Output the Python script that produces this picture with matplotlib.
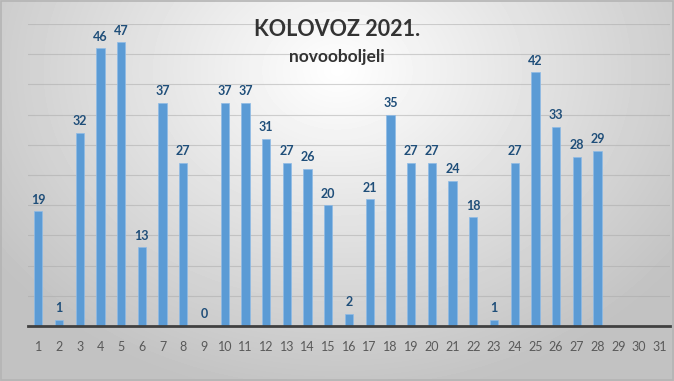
import matplotlib.pyplot as plt
import numpy as np

days = list(range(1, 32))
cases = [19, 1, 32, 46, 47, 13, 37, 27, 0, 37, 37, 31, 27, 26, 20, 2, 21, 35,
         27, 27, 24, 18, 1, 27, 42, 33, 28, 29, None, None, None]
title = 'KOLOVOZ 2021.'
subtitle = 'novooboljeli'

plt.rcParams['font.family'] = ['Lato', 'DejaVu Sans']

fig = plt.figure(figsize=(6.74, 3.81), dpi=100)

# radial grey background like the Excel chart
bg = fig.add_axes([0, 0, 1, 1])
yy, xx = np.mgrid[0:381, 0:674]
r = np.sqrt(((xx - 337) / 420.0) ** 2 + ((yy - 70) / 330.0) ** 2)
shade = np.clip(1.0 - 0.24 * r, 0.76, 1.0)
bg.imshow(shade, cmap='gray', vmin=0, vmax=1, aspect='auto', extent=[0, 1, 0, 1])
bg.set_xlim(0, 1)
bg.set_ylim(0, 1)
bg.axis('off')
bg.add_patch(plt.Rectangle((0.001, 0.002), 0.997, 0.995, fill=False,
                           ec='#b4b4b4', lw=1.2, transform=bg.transAxes))

ax = fig.add_axes([28 / 674, 55 / 381, 642 / 674, 302 / 381])
ax.patch.set_alpha(0)
vals = np.array([np.nan if v is None else v for v in cases], dtype=float)
bars = ax.bar(days, np.nan_to_num(vals), width=0.4, color='#5b9bd5',
              edgecolor='#8fbbe6', linewidth=0.5, zorder=3)
for d, v in zip(days, vals):
    if not np.isnan(v):
        ax.annotate(str(int(v)), (d, v), xytext=(0, 4), textcoords='offset points',
                    ha='center', va='bottom', fontsize=9, fontweight='bold',
                    color='#1f4e79', zorder=4)

ax.set_xlim(0.5, 31.5)
ax.set_ylim(0, 50)
ax.set_yticks(np.arange(0, 51, 5))
ax.yaxis.grid(True, color='#a8a8a8', lw=0.8, alpha=0.5, zorder=0)
ax.set_xticks(days)
ax.tick_params(axis='x', length=0, pad=11, labelsize=9, labelcolor='#595959')
ax.tick_params(axis='y', length=0, labelleft=False)
for s in ['top', 'right', 'left']:
    ax.spines[s].set_visible(False)
ax.spines['bottom'].set_color('#404040')
ax.spines['bottom'].set_linewidth(2)
ax.spines['bottom'].set_zorder(5)

fig.text(0.5, 351 / 381, title, ha='center', va='center', fontsize=15.5,
         fontweight='bold', color='#333333')
fig.text(0.5, 324 / 381, subtitle, ha='center', va='center', fontsize=12.5,
         fontweight='bold', color='#333333')

plt.savefig('out.png', dpi=100)
